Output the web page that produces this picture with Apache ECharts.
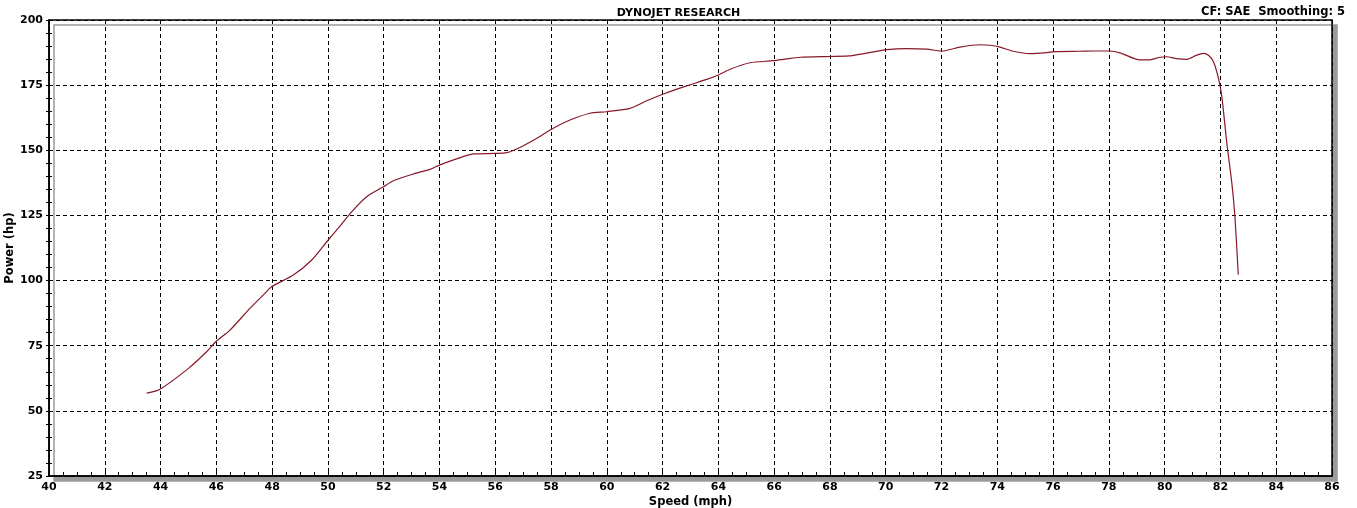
<!DOCTYPE html>
<html>
<head>
<meta charset="utf-8">
<script src="https://cdn.jsdelivr.net/npm/echarts@6/dist/echarts.min.js"></script>
<style>html,body{margin:0;padding:0;background:#fff}#c{width:1357px;height:508px}</style>
</head>
<body>
<div id="c"></div>
<script>
const titleText = 'DYNOJET RESEARCH';
const infoText = 'CF: SAE  Smoothing: 5';
const xName = 'Speed (mph)';
const yName = 'Power (hp)';
const xTicks = { min: 40, max: 86, interval: 2 };
const yTicks = { min: 25, max: 200, interval: 25 };

const speed = [43.5,43.98,45.0,45.65,45.99,46.49,47.21,47.74,47.99,48.76,49.42,49.96,50.37,50.85,51.39,51.99,52.35,53.06,53.66,54.02,54.56,55.21,55.99,56.41,56.89,57.49,58.02,58.68,59.40,59.99,60.83,61.43,62.03,62.86,63.58,64.0,64.42,65.13,65.97,66.4,66.93,68.0,68.66,69.32,70.04,70.75,71.47,72.01,72.66,73.38,73.74,74.10,74.57,75.17,75.77,76.07,76.97,77.44,78.04,78.40,79.12,79.42,79.84,80.07,80.43,80.79,81.15,81.39,81.57,81.75,81.93,82.05,82.23,82.41,82.52,82.64];
const power = [56.8,58.3,66.3,72.7,76.6,81.0,89.4,95.1,97.7,102.1,107.9,114.9,120.1,126.4,132.2,136.0,138.3,140.9,142.7,144.4,146.5,148.6,148.8,149.1,151.1,154.6,158.1,161.6,164.2,164.8,166.1,169.0,171.6,174.7,177.2,178.9,181.1,183.6,184.4,185.0,185.7,186.0,186.2,187.3,188.6,189.0,188.8,188.1,189.6,190.5,190.3,189.6,188.0,187.1,187.5,187.9,188.0,188.1,188.1,187.4,184.7,184.7,185.7,185.9,185.2,184.9,186.5,187.2,186.5,184.0,177.6,170.6,152.7,137.3,124.5,102.2];

const font = 'DejaVu Sans';
const lbl = { color: '#000', fontFamily: font, fontWeight: 'bold', fontSize: 11 };

const chart = echarts.init(document.getElementById('c'), null, { renderer: 'canvas' });
chart.setOption({
  animation: false,
  backgroundColor: '#fff',
  title: [
    { text: titleText, left: 'center', top: 3, textStyle: { ...lbl, fontSize: 11 } },
    { text: infoText, right: 7, top: 1, textStyle: { ...lbl, fontSize: 11.5 } }
  ],
  grid: {
    left: 49, right: 25, top: 20, bottom: 32,
    outerBoundsMode: 'none', containLabel: false,
    show: true, backgroundColor: '#fff', borderColor: '#000', borderWidth: 1.5,
    shadowColor: '#9a9a9a', shadowOffsetX: 5, shadowOffsetY: 5, shadowBlur: 0
  },
  xAxis: {
    type: 'value', min: xTicks.min, max: xTicks.max, interval: xTicks.interval,
    name: xName, nameLocation: 'middle', nameGap: 20, nameMoveOverlap: false,
    nameTextStyle: { ...lbl, fontSize: 11.5 },
    axisLine: { show: true, lineStyle: { color: '#000', width: 1.5 } },
    axisTick: { show: true, inside: true, length: 4, lineStyle: { color: '#000', width: 1 } },
    minorTick: { show: true, splitNumber: 4, length: 4, lineStyle: { color: '#000', width: 1 } },
    axisLabel: { ...lbl, margin: 6 },
    splitLine: { show: true, lineStyle: { color: '#000', type: [4, 3], width: 1 } }
  },
  yAxis: [{
    type: 'value', min: yTicks.min, max: yTicks.max, interval: yTicks.interval,
    name: yName, nameLocation: 'middle', nameGap: 33, nameRotate: 90, nameMoveOverlap: false,
    nameTextStyle: { ...lbl, fontSize: 11.5 },
    axisLine: { show: true, lineStyle: { color: '#000', width: 1.5 } },
    axisTick: { show: true, length: 3, lineStyle: { color: '#000', width: 1 } },
    minorTick: { show: true, splitNumber: 5, length: 3, lineStyle: { color: '#000', width: 1 } },
    axisLabel: { ...lbl, fontSize: 11, margin: 6 },
    splitLine: { show: true, lineStyle: { color: '#000', type: [4, 3], width: 1 } }
  }, {
    type: 'value', min: yTicks.min, max: yTicks.max, interval: yTicks.interval, position: 'left',
    axisLine: { show: false },
    axisTick: { show: true, inside: true, length: 3, lineStyle: { color: '#000', width: 1 } },
    minorTick: { show: true, splitNumber: 5, length: 3, lineStyle: { color: '#000', width: 1 } },
    axisLabel: { show: false },
    splitLine: { show: false }
  }],
  series: [{
    type: 'line',
    yAxisIndex: 0,
    data: speed.map((s, i) => [s, power[i]]),
    showSymbol: false,
    smooth: 0.25,
    lineStyle: { color: '#861828', width: 1.2 }
  }]
});
</script>
</body>
</html>
